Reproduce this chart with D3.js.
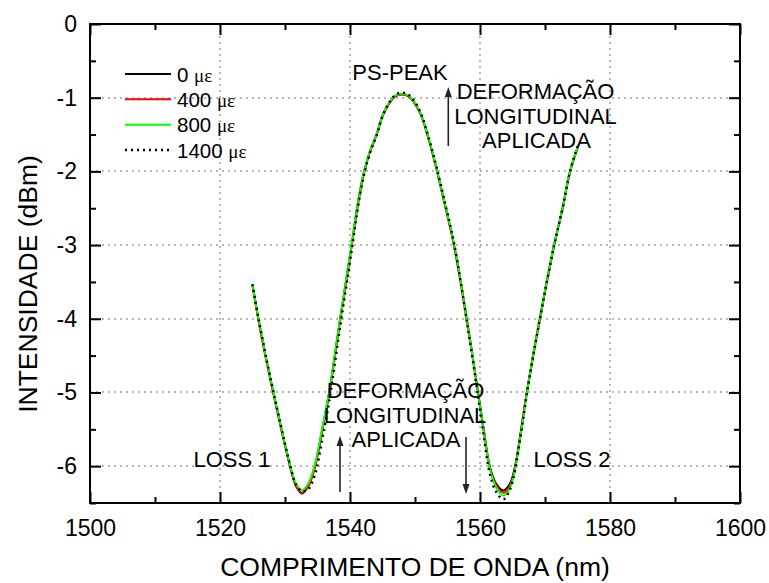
<!DOCTYPE html>
<html><head><meta charset="utf-8">
<script src="https://cdn.jsdelivr.net/npm/d3@7"></script>
<style>
html,body{margin:0;padding:0;background:#fff;}
text{font-family:"Liberation Sans",Arial,sans-serif;fill:#000;}
</style></head>
<body>
<svg id="chart" width="769" height="583"></svg>
<script>
// ---- data ----
const wavelength = [1525.0, 1525.9, 1527.0, 1528.2, 1529.5, 1530.8, 1531.7, 1532.6, 1533.5, 1534.6, 1535.7, 1536.8, 1538.5, 1540.25, 1541.1, 1542.05, 1543.0, 1544.1, 1545.0, 1546.0, 1547.0, 1548.0, 1549.0, 1550.0, 1551.0, 1551.8, 1552.6, 1553.4, 1554.6, 1556.0, 1557.95, 1559.7, 1560.6, 1561.5, 1562.5, 1563.6, 1564.6, 1565.4, 1566.3, 1567.2, 1569.2, 1571.4, 1572.7, 1573.85, 1575.0];
const s0ue    = [-3.54, -4.0, -4.5, -5.0, -5.52, -6.0, -6.27, -6.37, -6.28, -6.0, -5.52, -5.0, -4.0, -3.0, -2.5, -2.05, -1.75, -1.5, -1.25, -1.08, -0.98, -0.95, -0.98, -1.08, -1.25, -1.47, -1.72, -2.0, -2.45, -3.0, -4.0, -5.0, -5.52, -6.0, -6.24, -6.33, -6.24, -6.0, -5.52, -5.0, -4.0, -3.0, -2.5, -2.0, -1.68];
const s400ue  = [-3.55, -4.01, -4.51, -5.01, -5.53, -6.01, -6.27, -6.36, -6.29, -6.02, -5.54, -5.02, -4.02, -3.02, -2.51, -2.06, -1.75, -1.5, -1.25, -1.08, -0.98, -0.96, -0.98, -1.08, -1.25, -1.47, -1.72, -2.0, -2.45, -3.0, -4.0, -5.01, -5.54, -6.02, -6.26, -6.36, -6.27, -6.02, -5.53, -5.01, -4.01, -3.01, -2.51, -2.01, -1.69];
const s800ue  = [-3.54, -3.99, -4.49, -4.99, -5.51, -5.99, -6.24, -6.33, -6.25, -5.98, -5.5, -4.99, -3.99, -2.99, -2.49, -2.04, -1.74, -1.49, -1.24, -1.07, -0.97, -0.95, -0.97, -1.07, -1.24, -1.46, -1.71, -1.99, -2.44, -2.99, -3.99, -5.0, -5.54, -6.03, -6.29, -6.40, -6.30, -6.04, -5.55, -5.02, -4.0, -3.0, -2.5, -2.0, -1.67];
const s1400ue = [-3.53, -3.98, -4.48, -4.98, -5.5, -5.99, -6.25, -6.34, -6.32, -6.12, -5.65, -5.12, -4.1, -3.08, -2.56, -2.09, -1.77, -1.51, -1.25, -1.07, -0.96, -0.93, -0.96, -1.06, -1.23, -1.45, -1.7, -1.97, -2.42, -2.97, -4.02, -5.05, -5.6, -6.1, -6.35, -6.45, -6.32, -6.05, -5.56, -5.03, -4.01, -3.01, -2.5, -2.0, -1.66];
const seriesNames = ["0", "400", "800", "1400"];
const xMajorTicks = [1500, 1520, 1540, 1560, 1580, 1600];
const xMinorTicks = [1510, 1530, 1550, 1570, 1590];
const yMajorTicks = [0, -1, -2, -3, -4, -5, -6];
const yMinorTicks = [-0.5, -1.5, -2.5, -3.5, -4.5, -5.5, -6.5];
const xGrid = [1520, 1540, 1560, 1580];
const yGrid = [-1, -2, -3, -4, -5, -6];

// ---- layout ----
const svg = d3.select("#chart");
const L = 90, R = 740, T = 24, B = 503;
const x = d3.scaleLinear().domain([1500, 1600]).range([L, R]);
const y = d3.scaleLinear().domain([0, -6.5]).range([T, B]);

const styles = [
  {color: "#000000", width: 2, dash: null},
  {color: "#ff0000", width: 2, dash: null},
  {color: "#00ff00", width: 2, dash: null},
  {color: "#000000", width: 2.4, dash: "2,4"}
];
const seriesData = [s0ue, s400ue, s800ue, s1400ue];

// grid
const grid = svg.append("g").attr("class", "grid");
grid.selectAll("line.gx").data(xGrid).enter().append("line").attr("class", "gx")
  .attr("x1", d => x(d)).attr("x2", d => x(d)).attr("y1", T).attr("y2", B);
grid.selectAll("line.gy").data(yGrid).enter().append("line").attr("class", "gy")
  .attr("x1", L).attr("x2", R).attr("y1", d => Math.round(y(d))).attr("y2", d => Math.round(y(d)));
grid.selectAll("line")
  .attr("stroke", "#b8b8b8").attr("stroke-width", 2).attr("stroke-dasharray", "2,4")
  .attr("shape-rendering", "crispEdges");

// series
const line = d3.line().x((d, i) => x(wavelength[i])).y(d => y(d)).curve(d3.curveCatmullRom.alpha(0.5));
seriesData.forEach((s, k) => {
  const p = svg.append("path").datum(s).attr("d", line)
    .attr("fill", "none").attr("stroke", styles[k].color)
    .attr("stroke-width", styles[k].width)
    .attr("stroke-linejoin", "round");
  if (styles[k].dash) p.attr("stroke-dasharray", styles[k].dash);
});

// axes
function styleAxis(sel) {
  sel.select(".domain").remove();
  sel.selectAll(".tick line").attr("stroke", "#000").attr("stroke-width", 2);
  sel.selectAll("text").style("font-family", '"Liberation Sans", Arial, sans-serif').style("font-size", "23px").attr("fill", "#000");
}
const fmt = d => String(d);
svg.append("g").attr("transform", `translate(0,${B})`)
  .call(d3.axisBottom(x).tickValues(xMajorTicks).tickSize(-11).tickPadding(17).tickFormat(fmt))
  .call(styleAxis);
svg.append("g").attr("transform", `translate(0,${B})`)
  .call(d3.axisBottom(x).tickValues(xMinorTicks).tickSize(-6).tickFormat(""))
  .call(styleAxis);
svg.append("g").attr("transform", `translate(0,${T})`)
  .call(d3.axisTop(x).tickValues(xMajorTicks).tickSize(-11).tickFormat(""))
  .call(styleAxis);
svg.append("g").attr("transform", `translate(0,${T})`)
  .call(d3.axisTop(x).tickValues(xMinorTicks).tickSize(-6).tickFormat(""))
  .call(styleAxis);
svg.append("g").attr("transform", `translate(${L},0)`)
  .call(d3.axisLeft(y).tickValues(yMajorTicks).tickSize(-11).tickPadding(13).tickFormat(fmt))
  .call(styleAxis);
svg.append("g").attr("transform", `translate(${L},0)`)
  .call(d3.axisLeft(y).tickValues(yMinorTicks).tickSize(-6).tickFormat(""))
  .call(styleAxis);
svg.append("g").attr("transform", `translate(${R},0)`)
  .call(d3.axisRight(y).tickValues(yMajorTicks).tickSize(-11).tickFormat(""))
  .call(styleAxis);
svg.append("g").attr("transform", `translate(${R},0)`)
  .call(d3.axisRight(y).tickValues(yMinorTicks).tickSize(-6).tickFormat(""))
  .call(styleAxis);

// frame
svg.append("rect").attr("x", L).attr("y", T).attr("width", R - L).attr("height", B - T)
  .attr("fill", "none").attr("stroke", "#000").attr("stroke-width", 2);

// axis titles
svg.append("text").attr("x", (L + R) / 2).attr("y", 576).attr("text-anchor", "middle")
  .style("font-size", "26.5px").text("COMPRIMENTO DE ONDA (nm)");
svg.append("text").attr("transform", "translate(37,284) rotate(-90)").attr("text-anchor", "middle")
  .style("font-size", "26.5px").text("INTENSIDADE (dBm)");

// legend
const legY = [74, 99.3, 124.7, 150];
seriesNames.forEach((n, k) => {
  const ln = svg.append("line").attr("x1", 125).attr("x2", 171).attr("y1", legY[k]).attr("y2", legY[k])
    .attr("stroke", styles[k].color).attr("stroke-width", styles[k].width);
  if (styles[k].dash) ln.attr("stroke-dasharray", styles[k].dash);
  const t = svg.append("text").attr("x", 177).attr("y", legY[k] + 7.7).style("font-size", "20.5px");
  t.append("tspan").text(n + " ");
  t.append("tspan").style("font-family", '"Liberation Serif", "Times New Roman", serif').style("font-size", "19px").text("με");
});

// annotations
function ann(txt, cx, by) {
  svg.append("text").attr("x", cx).attr("y", by).attr("text-anchor", "middle").style("font-size", "22px").text(txt);
}
ann("PS-PEAK", 400, 80);
ann("DEFORMAÇÃO", 535.5, 98.5); ann("LONGITUDINAL", 535.5, 123.5); ann("APLICADA", 536.5, 148);
ann("DEFORMAÇÃO", 405.5, 398); ann("LONGITUDINAL", 405, 423); ann("APLICADA", 406, 447);
ann("LOSS 1", 232, 467);
ann("LOSS 2", 572, 467);

function arrow(x0, yFrom, yTo) {
  const dir = yTo < yFrom ? -1 : 1;
  svg.append("line").attr("x1", x0).attr("x2", x0).attr("y1", yFrom).attr("y2", yTo - dir * 8)
    .attr("stroke", "#222").attr("stroke-width", 1.6);
  svg.append("path").attr("d", `M${x0},${yTo} L${x0 - 3.5},${yTo - dir * 10} L${x0 + 3.5},${yTo - dir * 10} Z`)
    .attr("fill", "#222");
}
arrow(448.3, 146, 87);
arrow(340, 492, 436);
arrow(466, 437, 494);
</script>
</body></html>
